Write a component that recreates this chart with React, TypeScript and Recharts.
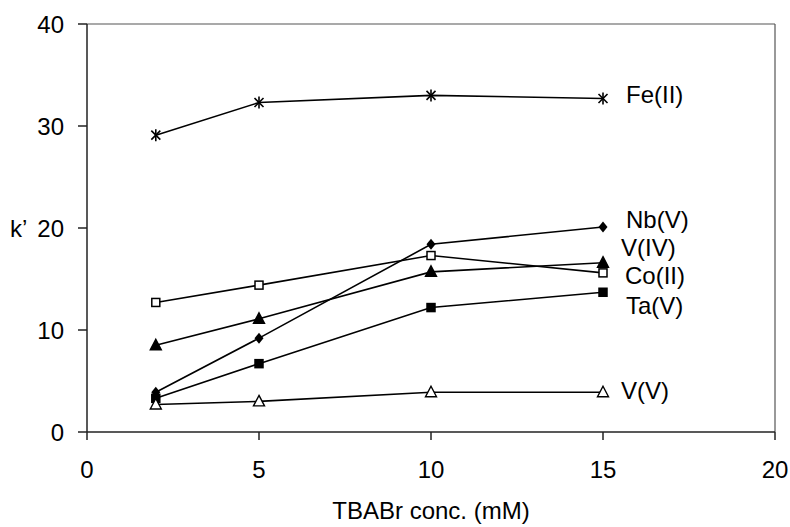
import React from "react";
import {
  LineChart,
  Line,
  XAxis,
  YAxis,
  ReferenceLine,
  LabelList,
  Label,
} from "recharts";

const conc = [2, 5, 10, 15];
const feII = [29.1, 32.3, 33.0, 32.7];
const nbV = [3.9, 9.2, 18.4, 20.1];
const vIV = [8.5, 11.1, 15.7, 16.6];
const coII = [12.7, 14.4, 17.3, 15.6];
const taV = [3.3, 6.7, 12.2, 13.7];
const vV = [2.7, 3.0, 3.9, 3.9];
const xTicks = [0, 5, 10, 15, 20];
const yTicks = [0, 10, 20, 30, 40];

const data = conc.map((x, i) => ({
  x,
  fe: feII[i],
  nb: nbV[i],
  viv: vIV[i],
  co: coII[i],
  ta: taV[i],
  vv: vV[i],
}));

const FONT = "'Liberation Sans', Arial, Helvetica, sans-serif";

type DotProps = { cx?: number; cy?: number; index?: number };

const Asterisk = ({ cx = 0, cy = 0, index }: DotProps) => (
  <g key={`a${index}`} stroke="#000" strokeWidth={1.6}>
    <line x1={cx - 4.5} y1={cy - 4.5} x2={cx + 4.5} y2={cy + 4.5} />
    <line x1={cx - 4.5} y1={cy + 4.5} x2={cx + 4.5} y2={cy - 4.5} />
    <line x1={cx} y1={cy - 6} x2={cx} y2={cy + 6} />
  </g>
);

const Diamond = ({ cx = 0, cy = 0, index }: DotProps) => (
  <path
    key={`d${index}`}
    d={`M${cx},${cy - 5.5}L${cx + 4.5},${cy}L${cx},${cy + 5.5}L${cx - 4.5},${cy}Z`}
    fill="#000"
  />
);

const Square = (filled: boolean) => ({ cx = 0, cy = 0, index }: DotProps) => (
  <rect
    key={`s${index}`}
    x={cx - 4}
    y={cy - 4}
    width={8}
    height={8}
    fill={filled ? "#000" : "#fff"}
    stroke="#000"
    strokeWidth={1.5}
  />
);

const Triangle = (filled: boolean) => ({ cx = 0, cy = 0, index }: DotProps) => (
  <path
    key={`t${index}`}
    d={`M${cx},${cy - 6}L${cx + 5.5},${cy + 4.5}L${cx - 5.5},${cy + 4.5}Z`}
    fill={filled ? "#000" : "#fff"}
    stroke="#000"
    strokeWidth={1.4}
  />
);

const endLabel = (text: string, dx: number, dy: number) => (props: any) => {
  const { x, y, index } = props;
  if (index !== conc.length - 1) return null;
  return (
    <text
      x={x + dx}
      y={y + dy}
      fontSize={24}
      fontFamily={FONT}
      fill="#000"
      dominantBaseline="central"
    >
      {text}
    </text>
  );
};

const series = [
  { key: "fe", name: "Fe(II)", dot: Asterisk, dx: 23, dy: -4 },
  { key: "nb", name: "Nb(V)", dot: Diamond, dx: 23, dy: -7 },
  { key: "viv", name: "V(IV)", dot: Triangle(true), dx: 18, dy: -15 },
  { key: "co", name: "Co(II)", dot: Square(false), dx: 22, dy: 3 },
  { key: "ta", name: "Ta(V)", dot: Square(true), dx: 23, dy: 13 },
  { key: "vv", name: "V(V)", dot: Triangle(false), dx: 18, dy: -2 },
];

export default function App() {
  return (
    <div style={{ position: "absolute", left: 0, top: 0, background: "#fff" }}>
      <LineChart
        width={790}
        height={527}
        data={data}
        margin={{ top: 24, right: 15, bottom: 0, left: 0 }}
      >
        <XAxis
          dataKey="x"
          type="number"
          domain={[0, 20]}
          ticks={xTicks}
          tickSize={8}
          tickMargin={21}
          height={95}
          stroke="#222"
          strokeWidth={1.5}
          tick={{ fill: "#000", fontSize: 24, fontFamily: FONT }}
        >
          <Label
            value="TBABr conc. (mM)"
            position="insideBottom"
            offset={8}
            style={{ fill: "#000", fontSize: 24, fontFamily: FONT }}
          />
        </XAxis>
        <YAxis
          type="number"
          domain={[0, 40]}
          ticks={yTicks}
          width={87}
          tickSize={9}
          tickMargin={14}
          stroke="#222"
          strokeWidth={1.5}
          tick={{ fill: "#000", fontSize: 24, fontFamily: FONT }}
        >
          <Label
            value="k’"
            position="insideLeft"
            offset={10}
            style={{ fill: "#000", fontSize: 24, fontFamily: FONT }}
          />
        </YAxis>
        <ReferenceLine y={40} stroke="#555" strokeWidth={1.2} />
        <ReferenceLine x={20} stroke="#555" strokeWidth={1.2} />
        {series.map((s) => (
          <Line
            key={s.key}
            dataKey={s.key}
            name={s.name}
            stroke="#000"
            strokeWidth={1.6}
            dot={s.dot}
            activeDot={false}
            isAnimationActive={false}
          >
            <LabelList dataKey={s.key} content={endLabel(s.name, s.dx, s.dy)} />
          </Line>
        ))}
      </LineChart>
    </div>
  );
}
